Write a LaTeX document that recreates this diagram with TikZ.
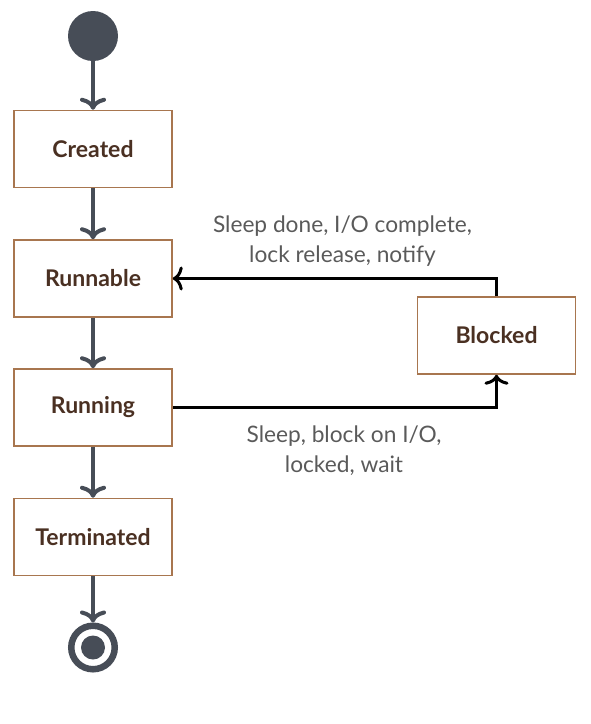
\documentclass[tikz,border=0pt]{standalone}
\usepackage{fontspec}
\setmainfont{Lato}
\usetikzlibrary{arrows.meta}
\definecolor{dk}{HTML}{474D57}
\definecolor{boxc}{HTML}{A8764F}
\definecolor{txt}{HTML}{4A3022}
\definecolor{lbl}{HTML}{5A5A5A}
\begin{document}
\begin{tikzpicture}[x=1pt,y=-1pt,
  box/.style={draw=boxc, line width=1.5pt, fill=white, minimum width=158pt, minimum height=77pt, inner sep=0pt,
    font=\bfseries\fontsize{23}{27}\selectfont, text=txt},
  flow/.style={draw=dk, line width=4pt, -{Computer Modern Rightarrow[length=12pt,width=26pt,line width=4pt]}},
  side/.style={draw=black, line width=3pt, -{Computer Modern Rightarrow[length=10pt,width=24pt,line width=3pt]}},
  lab/.style={align=center, text=lbl, font=\fontsize{22.7}{30}\selectfont, inner sep=0pt}]
\useasboundingbox (0,0) rectangle (590,724);
\node[circle, fill=dk, minimum size=50pt, inner sep=0pt, outer sep=0pt] (start) at (93,36) {};
\node[box] (created) at (93,149) {Created};
\node[box] (runnable) at (93,278.5) {Runnable};
\node[box] (running) at (93,407.5) {Running};
\node[box] (terminated) at (93,537) {Terminated};
\node[box] (blocked) at (496.5,335.5) {Blocked};
\node[circle, draw=dk, line width=6.5pt, fill=white, minimum size=43.5pt, inner sep=0pt] (end) at (93,647.5) {};
\node[circle, fill=dk, minimum size=24pt, inner sep=0pt] (endin) at (end.center) {};
\draw[flow] (start) -- (created);
\draw[flow] (created) -- (runnable);
\draw[flow] (runnable) -- (running);
\draw[flow] (running) -- (terminated);
\draw[flow] (terminated) -- (end);
\draw[side] (blocked.north) |- (runnable.east);
\draw[side] (running.east) -| (blocked.south);
\node[lab] (l1) at (342.5,241.5) {Sleep done, I/O complete,\\lock release, notify};
\node[lab] (l2) at (344,451) {Sleep, block on I/O,\\locked, wait};
\end{tikzpicture}
\end{document}
